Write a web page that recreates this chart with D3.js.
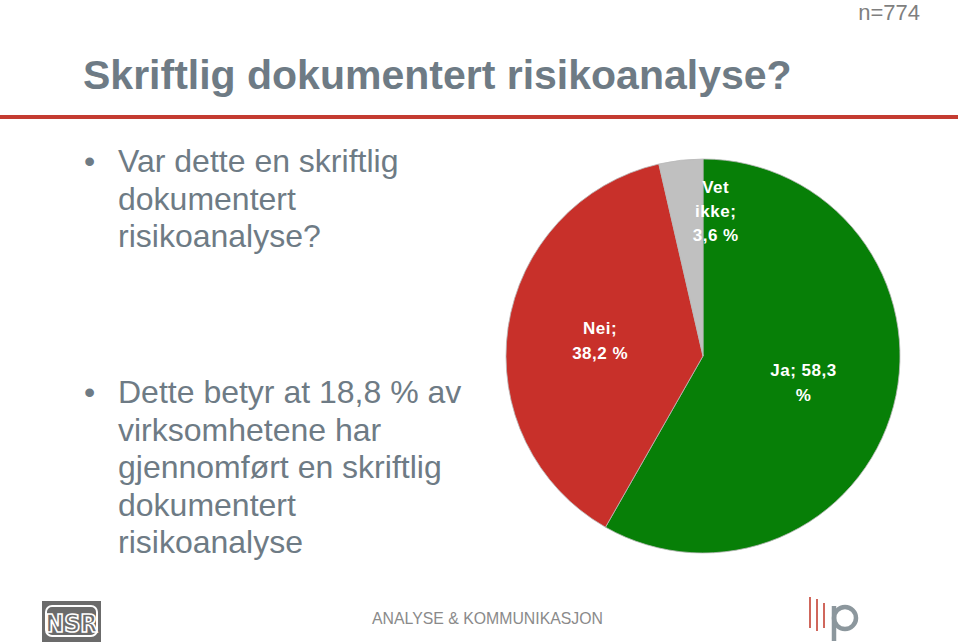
<!DOCTYPE html>
<html><head><meta charset="utf-8">
<script src="https://cdn.jsdelivr.net/npm/d3@7"></script>
<style>
html,body{margin:0;padding:0;background:#fff;}
svg{display:block;}
</style></head>
<body>
<svg id="chart" width="960" height="644"></svg>
<script>
// ---- data ----
const categories = ["Ja", "Nei", "Vet ikke"];
const values = [58.3, 38.2, 3.6];
const labelLines = [["Ja; 58,3", "%"], ["Nei;", "38,2 %"], ["Vet", "ikke;", "3,6 %"]];
const colors = ["#077f07", "#c8302a", "#c0c0c0"];
const title = "Skriftlig dokumentert risikoanalyse?";
const nText = "n=774";
const bullet1 = ["Var dette en skriftlig", "dokumentert", "risikoanalyse?"];
const bullet2 = ["Dette betyr at 18,8 % av", "virksomhetene har", "gjennomført en skriftlig", "dokumentert", "risikoanalyse"];
const footerText = "ANALYSE & KOMMUNIKASJON";

const svg = d3.select("#chart");
const textGray = "#6e7b85";

// n
svg.append("text").attr("x", 920).attr("y", 20).attr("text-anchor", "end")
  .attr("font-family", "Liberation Sans, Arial, sans-serif").attr("font-size", 22)
  .attr("fill", "#7f7f7f").text(nText);

// title
svg.append("text").attr("x", 83).attr("y", 89)
  .attr("font-family", "Liberation Sans, Arial, sans-serif").attr("font-size", 41)
  .attr("font-weight", "bold").attr("fill", textGray).text(title);

// red rule
svg.append("rect").attr("x", 0).attr("y", 115).attr("width", 958).attr("height", 4).attr("fill", "#c43b31");

// bullets
function bulletBlock(lines, y0) {
  svg.append("text").attr("x", 84).attr("y", y0)
    .attr("font-family", "Liberation Sans, Arial, sans-serif").attr("font-size", 32)
    .attr("fill", textGray).text("•");
  lines.forEach((l, i) => {
    svg.append("text").attr("x", 118).attr("y", y0 + i * 37.5)
      .attr("font-family", "Liberation Sans, Arial, sans-serif").attr("font-size", 32)
      .attr("fill", textGray).text(l);
  });
}
bulletBlock(bullet1, 172);
bulletBlock(bullet2, 403);

// pie
const cx = 703, cy = 356, R = 197;
const g = svg.append("g").attr("transform", `translate(${cx},${cy})`);
const pie = d3.pie().sort(null).value(d => d)(values);
const arc = d3.arc().innerRadius(0).outerRadius(R);
g.selectAll("path").data(pie).join("path")
  .attr("d", arc).attr("fill", (d, i) => colors[i])
  .attr("stroke", "#b9b9b9").attr("stroke-width", 0.8);

const labelArc = d3.arc().innerRadius(0).outerRadius(208);
pie.forEach((d, i) => {
  let x, y;
  if (i < 2) {
    [x, y] = labelArc.centroid(d);
  } else {
    // "Vet ikke" label is pushed out and beside its narrow slice
    const ang = (d.startAngle + d.endAngle) / 2 + 0.2 - 2 * Math.PI;
    x = 146 * Math.sin(ang); y = -146 * Math.cos(ang);
  }
  const lines = labelLines[i];
  const lh = i === 2 ? 24 : 25;
  const t = g.append("text").attr("text-anchor", "middle")
    .attr("font-family", "Liberation Sans, Arial, sans-serif").attr("font-size", 17)
    .attr("font-weight", "bold").attr("letter-spacing", 0.5).attr("fill", "#fff");
  lines.forEach((l, k) => {
    t.append("tspan").attr("x", x).attr("y", y + (k - (lines.length - 1) / 2) * lh + 6).text(l);
  });
});

// footer: NSR logo
const nsr = svg.append("g");
nsr.append("rect").attr("x", 42).attr("y", 601).attr("width", 59).attr("height", 41).attr("fill", "#6b6b6b");
nsr.append("rect").attr("x", 46).attr("y", 606).attr("width", 51).attr("height", 30).attr("rx", 6)
  .attr("fill", "none").attr("stroke", "#fff").attr("stroke-width", 2);
nsr.append("text").attr("x", 71.5).attr("y", 632).attr("text-anchor", "middle")
  .attr("font-family", "DejaVu Sans Condensed, Liberation Sans Narrow, Arial, sans-serif").attr("font-weight", "bold")
  .attr("font-size", 25).attr("fill", "#6b6b6b").attr("stroke", "#fff").attr("stroke-width", 1.6).text("NSR");

// footer text
svg.append("text").attr("x", 372).attr("y", 624).attr("textLength", 231).attr("lengthAdjust", "spacingAndGlyphs")
  .attr("font-family", "Liberation Sans Narrow, Liberation Sans, Arial, sans-serif").attr("font-size", 17)
  .attr("fill", "#8a8a8a").text(footerText);

// right logo
const lg = svg.append("g");
[[810, 597, 628], [817, 599, 631], [824, 603, 628]].forEach(([x, y1, y2]) => {
  lg.append("line").attr("x1", x).attr("x2", x).attr("y1", y1).attr("y2", y2)
    .attr("stroke", "#d0675c").attr("stroke-width", 2);
});
lg.append("line").attr("x1", 834).attr("x2", 834).attr("y1", 606).attr("y2", 641)
  .attr("stroke", "#8c979d").attr("stroke-width", 4.5);
lg.append("circle").attr("cx", 845).attr("cy", 618).attr("r", 11)
  .attr("fill", "none").attr("stroke", "#8c979d").attr("stroke-width", 4.5);
</script>
</body></html>
